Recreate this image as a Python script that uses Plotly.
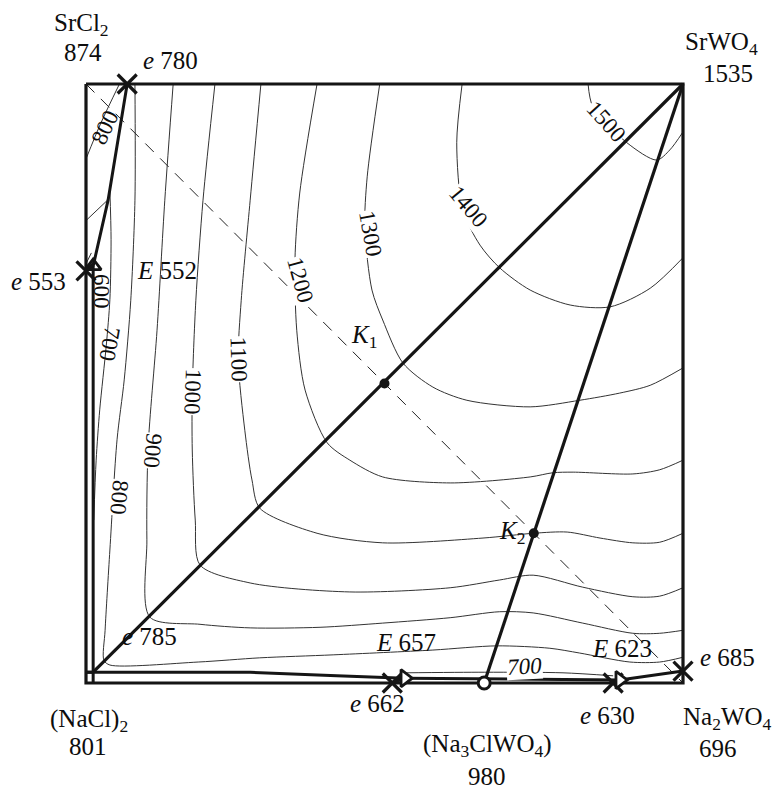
import plotly.graph_objects as go

FONT = "Liberation Serif, Times New Roman, serif"

# Square of the reciprocal system (equivalent %):
# x grows toward the tungstate side, y grows toward the strontium side
frame_x = [0, 100, 100, 0, 0]
frame_y = [100, 100, 0, 0, 100]

# stable diagonals and the unstable (dashed) one
diag_x = [1.2, 100]
diag_y = [1.8, 100]
sec_x = [66.7, 100]
sec_y = [0.0, 100]
unst_x = [0, 100]
unst_y = [100, 0]

# univariant (monovariant) curves
b1_x = [6.9, 3.7, 1.2]
b1_y = [100, 80.6, 69.6]
b2_x = [0, 1.2]
b2_y = [68.8, 69.6]
b3_x = [1.2, 1.2]
b3_y = [69.6, 0]
b4_x = [0, 27.5, 42.0, 53.4]
b4_y = [1.8, 1.8, 1.2, 0.8]
b5_x = [51.3, 53.4]
b5_y = [0, 0.8]
b6_x = [53.4, 66.7, 89.4]
b6_y = [0.8, 0.7, 0.5]
b7_x = [88.3, 89.4]
b7_y = [0, 0.5]
b8_x = [89.4, 100]
b8_y = [0.5, 2.0]

# isotherms in the SrCl2 field
s800_x = [0, 2.5, 5.6]
s800_y = [87.5, 93.5, 100]
s700_x = [0, 3.6]
s700_y = [77.2, 80.6]
s600_x = [0, 0.9]
s600_y = [70.0, 71.8]

# isotherms in the SrWO4 field
t700_x = [4.0, 4.2, 4.0, 3.4, 2.3, 1.7, 1.3]
t700_y = [82.3, 74.0, 64.0, 56.4, 45.6, 37.2, 27.2]

t800_x = [8.2, 8.2, 7.5, 6.4, 5.2, 4.0, 3.2, 3.0, 4.0, 18.8, 29.1, 41.4, 58.1, 68.8, 77.7, 82.7, 91.1, 96.1, 100]
t800_y = [100, 80.6, 63.9, 50.6, 40.6, 22.2, 8.8, 3.8, 3.0, 3.5, 4.2, 4.7, 5.5, 6.2, 5.8, 5.0, 3.5, 3.5, 4.3]

t900_x = [14.6, 13.2, 11.9, 10.4, 10.2, 10.7, 19.1, 27.5, 39.2, 49.7, 61.0, 69.3, 74.9, 83.2, 91.6, 96.1, 100]
t900_y = [100, 80.6, 58.9, 39.2, 23.9, 11.0, 9.8, 9.2, 9.3, 10.0, 10.9, 11.9, 11.7, 10.0, 8.3, 8.3, 8.8]

t1000_x = [21.6, 19.6, 18.4, 17.8, 17.8, 18.3, 19.1, 27.5, 44.2, 61.0, 69.3, 74.9, 83.2, 91.6, 96.1, 100]
t1000_y = [100, 80.6, 63.9, 48.6, 38.9, 27.2, 19.7, 16.7, 15.2, 15.9, 17.2, 18.0, 16.0, 14.4, 14.5, 15.9]

t1100_x = [29.3, 27.5, 26.0, 25.5, 26.6, 27.8, 29.1, 38.7, 49.7, 66.5, 75.0, 80.6, 86.1, 91.6, 96.1, 100]
t1100_y = [100, 80.6, 63.9, 53.9, 42.2, 33.9, 29.2, 25.0, 23.4, 24.2, 25.0, 25.2, 24.2, 23.4, 23.5, 25.0]

t1200_x = [38.7, 35.8, 35.0, 35.3, 36.7, 40.4, 44.2, 49.7, 61.0, 74.4, 78.2, 81.6, 91.6, 96.1, 100]
t1200_y = [100, 81.8, 70.6, 58.9, 48.9, 40.1, 37.2, 34.4, 33.4, 34.4, 35.1, 35.2, 34.9, 35.6, 37.2]

t1300_x = [49.2, 47.1, 46.7, 47.9, 49.7, 53.1, 58.1, 63.8, 74.4, 82.7, 89.4, 94.5, 100]
t1300_y = [100, 84.5, 76.1, 65.6, 60.6, 53.4, 49.4, 47.2, 46.1, 47.2, 48.4, 49.7, 52.6]

t1400_x = [63.0, 62.1, 63.1, 66.0, 69.3, 74.4, 81.1, 87.8, 94.5, 100]
t1400_y = [100, 90.2, 79.0, 73.1, 69.3, 65.6, 63.1, 62.8, 65.9, 71.0]

t1500_x = [84.1, 84.9, 90.6, 95.6, 97.8, 100]
t1500_y = [100, 96.2, 90.2, 87.3, 89.0, 92.0]

# low-temperature isotherm near the (NaCl)2 - Na2WO4 side
b700_x = [53.4, 66.8, 79.9, 88.3]
b700_y = [1.7, 1.8, 1.7, 1.2]

# invariant points
bin_eut_x = [6.9, 0, 51.3, 88.3, 100]
bin_eut_y = [100, 68.8, 0, 0, 2.0]
E552_x = [1.2]
E552_y = [69.6]
Eright_x = [53.4, 89.4]
Eright_y = [0.8, 0.5]
comp_x = [66.7]
comp_y = [0]
K_x = [50, 75]
K_y = [50, 25]

fig = go.Figure()


def line(xs, ys, width=1.0, color="#2a2a2a", dash=None, shape="linear"):
    fig.add_trace(go.Scatter(
        x=xs, y=ys, mode="lines",
        line=dict(width=width, color=color, dash=dash, shape=shape, smoothing=0.8),
        hoverinfo="skip", showlegend=False))


# thin isotherms
for xs, ys in [(s800_x, s800_y), (s700_x, s700_y), (s600_x, s600_y),
               (t700_x, t700_y), (t800_x, t800_y), (t900_x, t900_y),
               (t1000_x, t1000_y), (t1100_x, t1100_y), (t1200_x, t1200_y),
               (t1300_x, t1300_y), (t1400_x, t1400_y), (t1500_x, t1500_y),
               (b700_x, b700_y)]:
    line(xs, ys, width=1.0, color="#333333", shape="spline")

# dashed unstable diagonal
line(unst_x, unst_y, width=1.0, color="#222222", dash="12px,9px")

# heavy lines
line(frame_x, frame_y, width=3.2, color="#151515")
line(diag_x, diag_y, width=3.2, color="#151515")
line(sec_x, sec_y, width=3.2, color="#151515")
for xs, ys in [(b1_x, b1_y), (b2_x, b2_y), (b3_x, b3_y), (b4_x, b4_y),
               (b5_x, b5_y), (b6_x, b6_y), (b7_x, b7_y), (b8_x, b8_y)]:
    line(xs, ys, width=3.0, color="#151515")
line([0, 1.2], [1.8, 1.8], width=3.0, color="#151515")

# markers
fig.add_trace(go.Scatter(x=bin_eut_x, y=bin_eut_y, mode="markers", hoverinfo="skip", showlegend=False,
                         marker=dict(symbol="x-thin", size=19, line=dict(width=3.2, color="#151515"))))
fig.add_trace(go.Scatter(x=E552_x, y=E552_y, mode="markers", hoverinfo="skip", showlegend=False,
                         marker=dict(symbol="triangle-up-open", size=14, color="#151515",
                                     line=dict(width=2.8, color="#151515"))))
fig.add_trace(go.Scatter(x=Eright_x, y=Eright_y, mode="markers", hoverinfo="skip", showlegend=False,
                         marker=dict(symbol="triangle-right", size=15, color="white",
                                     line=dict(width=2.8, color="#151515"))))
fig.add_trace(go.Scatter(x=comp_x, y=comp_y, mode="markers", hoverinfo="skip", showlegend=False,
                         marker=dict(symbol="circle", size=12, color="white",
                                     line=dict(width=3, color="#151515"))))
fig.add_trace(go.Scatter(x=K_x, y=K_y, mode="markers", hoverinfo="skip", showlegend=False,
                         marker=dict(symbol="circle", size=10, color="#151515")))

# text labels: (text, x, y, vertical anchor)
labels = [
    ("SrCl<sub>2</sub>", -0.7, 109.9, "middle"), ("874", -0.5, 105.2, "middle"),
    ("<i>e</i> 780", 14.1, 104.0, "middle"),
    ("SrWO<sub>4</sub>", 106.5, 106.8, "middle"), ("1535", 107.5, 101.8, "middle"),
    ("<i>e</i> 553", -8.0, 67.1, "middle"), ("<i>E</i> 552", 13.6, 68.9, "middle"),
    ("<i>K</i><sub>1</sub>", 46.6, 57.9, "middle"), ("<i>K</i><sub>2</sub>", 71.4, 25.2, "middle"),
    ("<i>e</i> 785", 10.7, 7.8, "middle"), ("<i>E</i> 657", 53.6, 6.7, "middle"),
    ("<i>E</i> 623", 89.8, 5.8, "middle"), ("<i>e</i> 685", 107.5, 4.3, "middle"),
    ("<i>e</i> 662", 48.9, -3.5, "middle"), ("<i>e</i> 630", 87.4, -5.5, "middle"),
    ("(NaCl)<sub>2</sub>", 0.5, -6.2, "middle"), ("801", 0.3, -10.6, "middle"),
    ("(Na<sub>3</sub>ClWO<sub>4</sub>)", 67.2, -10.4, "middle"), ("980", 67.2, -18.1, "bottom"),
    ("Na<sub>2</sub>WO<sub>4</sub>", 107.5, -6.0, "middle"), ("696", 105.9, -11.0, "middle"),
]
for text, x, y, ya in labels:
    fig.add_annotation(x=x, y=y, text=text, showarrow=False, yanchor=ya, borderpad=0,
                       font=dict(family=FONT, size=25, color="#0d0d0d"))

iso_labels = [
    ("800", 3.2, 92.7, -65, False),
    ("600", 2.5, 65.3, 90, False),
    ("700", 3.9, 56.6, 100, False),
    ("800", 5.5, 30.9, 95, True),
    ("900", 11.2, 38.7, 95, True),
    ("1000", 17.8, 48.6, 92, True),
    ("1100", 25.5, 54.1, 88, True),
    ("1200", 35.8, 67.3, 75, True),
    ("1300", 47.6, 75.0, 80, True),
    ("1400", 64.0, 79.5, 50, True),
    ("1500", 87.1, 93.7, 48, True),
    ("<i>700</i>", 73.4, 2.8, -3, True),
]
for text, x, y, ang, bg in iso_labels:
    fig.add_annotation(x=x, y=y, text=text, showarrow=False, textangle=ang,
                       bgcolor="white" if bg else None, borderpad=0,
                       font=dict(family=FONT, size=23, color="#0d0d0d"))

fig.update_layout(
    width=777, height=792, autosize=False,
    margin=dict(l=0, r=0, t=0, b=0),
    paper_bgcolor="white", plot_bgcolor="white",
    xaxis=dict(range=[-14.405, 115.745], visible=False, fixedrange=True),
    yaxis=dict(range=[-18.197, 114.023], visible=False, fixedrange=True),
)

fig.write_html("out.html")
